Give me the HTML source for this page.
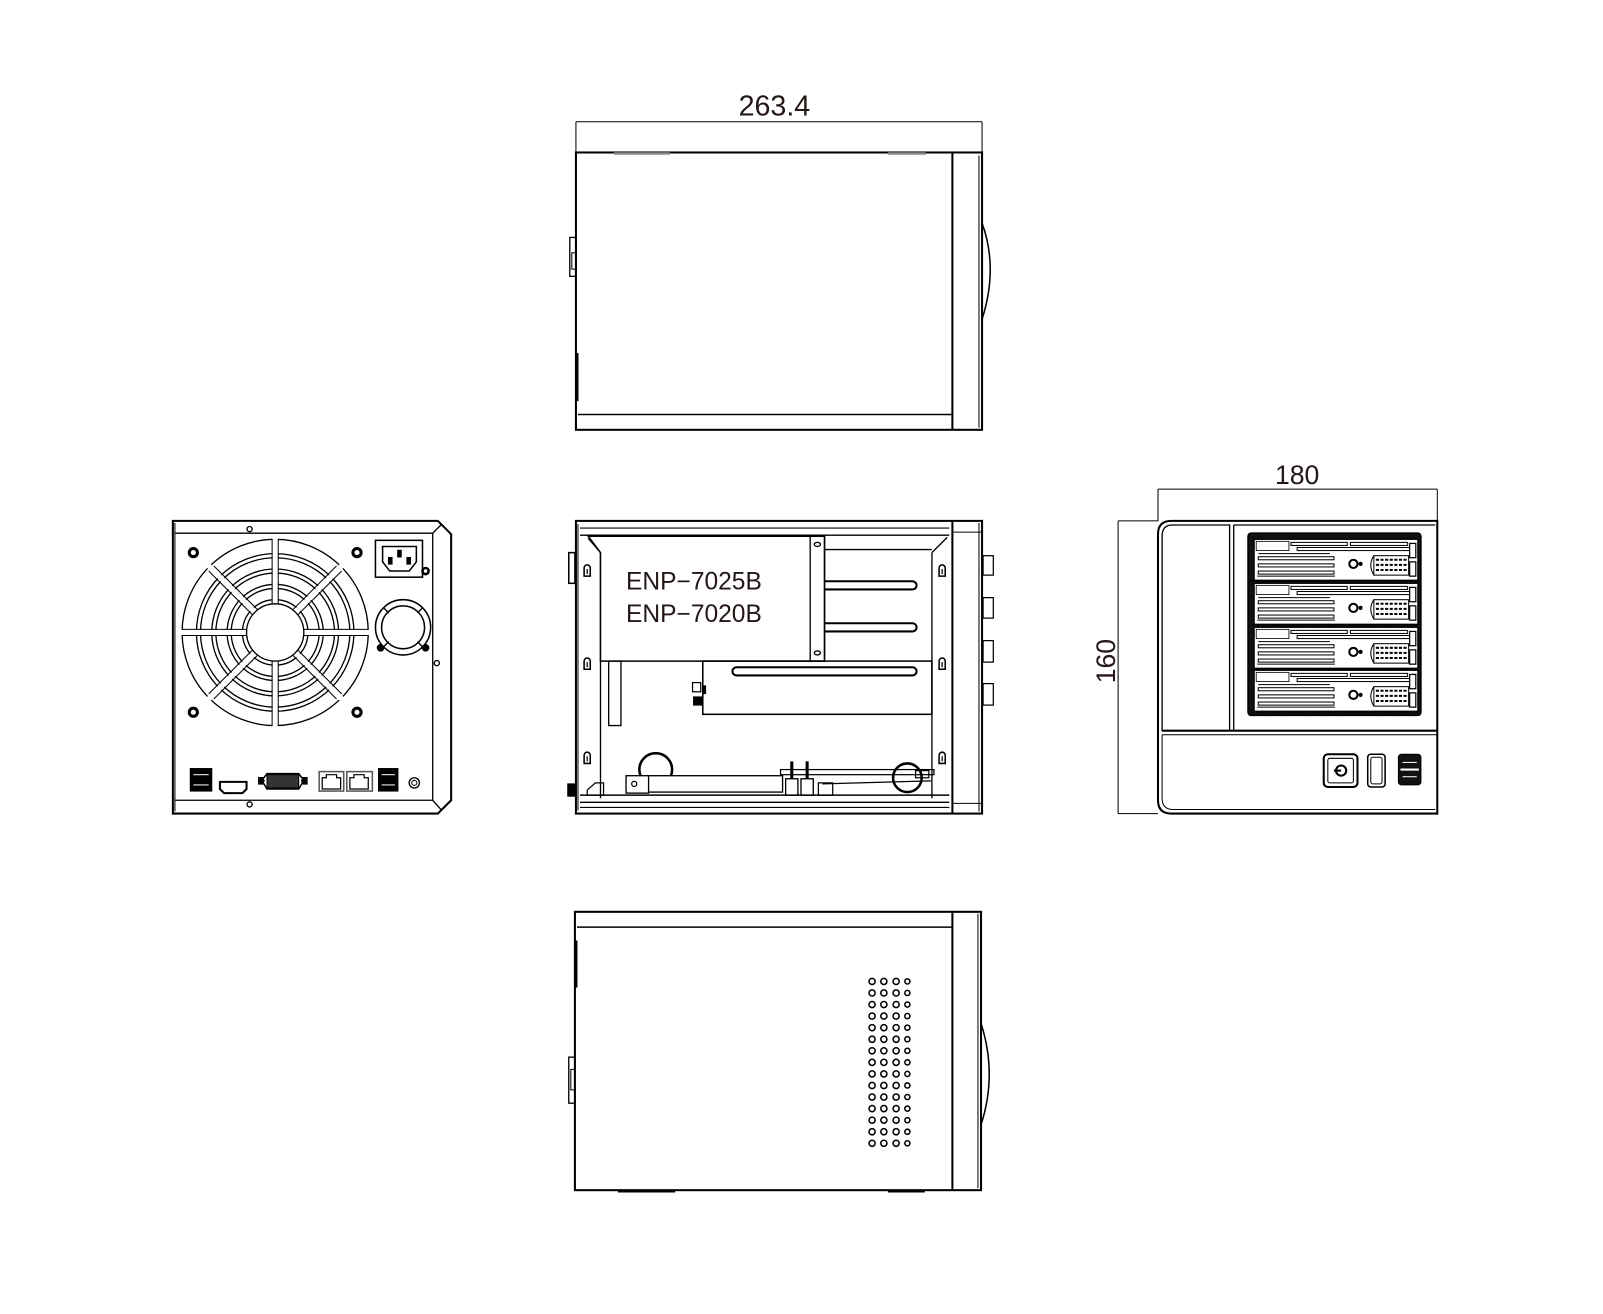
<!DOCTYPE html>
<html><head><meta charset="utf-8"><style>
html,body{margin:0;padding:0;background:#fff;width:1603px;height:1314px;overflow:hidden}
svg{display:block}
text{font-family:"Liberation Sans",sans-serif;fill:#231815}
</style></head><body>
<svg width="1603" height="1314" viewBox="0 0 1567 1284" preserveAspectRatio="none" xmlns="http://www.w3.org/2000/svg">
<defs>
<g id="bay">
 <rect x="1226" y="0" width="160" height="40" fill="#fff" stroke="#000" stroke-width="1.2"/>
 <rect x="1228" y="2" width="32" height="9" fill="#fff" stroke="#000" stroke-width="0.8"/>
 <line x1="1230" y1="14" x2="1300" y2="14" stroke="#000" stroke-width="1"/>
 <rect x="1262" y="3" width="55" height="3" fill="#fff" stroke="#000" stroke-width="1"/>
 <rect x="1268" y="8" width="110" height="3" fill="#fff" stroke="#000" stroke-width="1"/>
 <rect x="1320" y="3" width="56" height="3" fill="#fff" stroke="#000" stroke-width="1"/>
 <rect x="1230" y="17" width="74" height="3" fill="#fff" stroke="#000" stroke-width="1"/>
 <rect x="1230" y="24" width="74" height="3" fill="#fff" stroke="#000" stroke-width="1"/>
 <rect x="1230" y="31" width="74" height="3" fill="#fff" stroke="#000" stroke-width="1"/>
 <line x1="1229" y1="36" x2="1305" y2="36" stroke="#000" stroke-width="1"/>
 <circle cx="1323" cy="24" r="4" fill="#fff" stroke="#000" stroke-width="2"/>
 <circle cx="1330" cy="24" r="1.3" fill="#000"/>
 <path d="M1343 16 Q1337 25 1343 35" fill="none" stroke="#000" stroke-width="1"/>
 <rect x="1343" y="16" width="34" height="19" fill="#fff" stroke="#000" stroke-width="1"/>
 <line x1="1345" y1="20" x2="1376" y2="20" stroke="#000" stroke-width="2" stroke-dasharray="3 1.5"/>
 <line x1="1345" y1="25" x2="1376" y2="25" stroke="#000" stroke-width="2" stroke-dasharray="3 1.5"/>
 <line x1="1345" y1="30" x2="1376" y2="30" stroke="#000" stroke-width="2" stroke-dasharray="3 1.5"/>
 <rect x="1378" y="4" width="6" height="14" fill="#fff" stroke="#000" stroke-width="1.2"/>
 <rect x="1378" y="22" width="6" height="14" fill="#fff" stroke="#000" stroke-width="1.2"/>
 <line x1="1223" y1="41" x2="1388" y2="41" stroke="#000" stroke-width="1.5" stroke-dasharray="3 2"/>
</g>
<g id="hook"><path d="M-3 6 V-2 A3 3 0 0 1 3 -2 V6 Z" fill="#fff" stroke="#000" stroke-width="1.5"/><line x1="0" y1="-1" x2="0" y2="4" stroke="#000" stroke-width="1.2"/></g>
</defs>
<g fill="none" stroke="#000" stroke-width="1.5">

<!-- ============ TOP VIEW ============ -->
<text x="757" y="113" font-size="28" text-anchor="middle" stroke="none">263.4</text>
<line x1="563" y1="119" x2="960" y2="119" stroke-width="1"/>
<line x1="563" y1="119" x2="563" y2="149" stroke-width="1"/>
<line x1="960" y1="119" x2="960" y2="149" stroke-width="1"/>
<rect x="563" y="149" width="397" height="271" stroke-width="2"/>
<line x1="931" y1="149" x2="931" y2="420" stroke-width="2"/>
<line x1="957" y1="152" x2="957" y2="418" stroke-width="1"/>
<line x1="565" y1="405" x2="931" y2="405" stroke-width="1.5"/>
<line x1="600" y1="150" x2="655" y2="150" stroke="#888" stroke-width="2.5"/>
<line x1="868" y1="150" x2="905" y2="150" stroke="#888" stroke-width="2.5"/>
<path d="M960 218 Q976 262 960 312" stroke-width="1.5"/>
<rect x="557" y="232" width="6" height="38" stroke-width="1.3"/>
<rect x="559" y="247" width="4" height="16" stroke-width="1"/>
<line x1="564" y1="345" x2="564" y2="392" stroke-width="3"/>

<!-- ============ REAR VIEW ============ -->
<path d="M169 509 H428 L441 522 V782 L428 795 H169 Z" stroke-width="2"/>
<path d="M171 521 H423 L431 513" stroke-width="1.3"/>
<path d="M171 782 H423 L431 791" stroke-width="1.3"/>
<path d="M423 521 V782" stroke-width="1.3"/>
<line x1="171" y1="511" x2="171" y2="793" stroke-width="1"/>
<circle cx="244" cy="517" r="2.5" stroke-width="1.3"/>
<circle cx="244" cy="786" r="2.5" stroke-width="1.3"/>
<circle cx="189" cy="540" r="4" stroke-width="3"/>
<circle cx="349" cy="540" r="4" stroke-width="3"/>
<circle cx="189" cy="696" r="4" stroke-width="3"/>
<circle cx="349" cy="696" r="4" stroke-width="3"/>
<circle cx="427" cy="648" r="2.5" stroke-width="1.3"/>
<circle cx="416" cy="558" r="3" stroke-width="2.5"/>
<!-- fan -->
<g stroke-width="1.3">
<circle cx="269" cy="618" r="28"/>
<circle cx="269" cy="618" r="32"/><circle cx="269" cy="618" r="43"/>
<circle cx="269" cy="618" r="47"/><circle cx="269" cy="618" r="58"/>
<circle cx="269" cy="618" r="62"/><circle cx="269" cy="618" r="73"/>
<circle cx="269" cy="618" r="77"/><circle cx="269" cy="618" r="91"/>
</g>
<g stroke="#fff" stroke-width="5">
<line x1="269" y1="588" x2="269" y2="524"/><line x1="269" y1="648" x2="269" y2="712"/>
<line x1="239" y1="618" x2="175" y2="618"/><line x1="299" y1="618" x2="363" y2="618"/>
<line x1="248" y1="597" x2="203" y2="552"/><line x1="290" y1="597" x2="335" y2="552"/>
<line x1="248" y1="639" x2="203" y2="684"/><line x1="290" y1="639" x2="335" y2="684"/>
</g>
<g stroke-width="1">
<line x1="266" y1="590" x2="266" y2="527"/><line x1="272" y1="590" x2="272" y2="527"/>
<line x1="266" y1="646" x2="266" y2="709"/><line x1="272" y1="646" x2="272" y2="709"/>
<line x1="241" y1="615" x2="178" y2="615"/><line x1="241" y1="621" x2="178" y2="621"/>
<line x1="297" y1="615" x2="360" y2="615"/><line x1="297" y1="621" x2="360" y2="621"/>
<line x1="247" y1="601" x2="204" y2="558"/><line x1="252" y1="596" x2="209" y2="553"/>
<line x1="291" y1="601" x2="334" y2="558"/><line x1="286" y1="596" x2="329" y2="553"/>
<line x1="247" y1="635" x2="204" y2="678"/><line x1="252" y1="640" x2="209" y2="683"/>
<line x1="291" y1="635" x2="334" y2="678"/><line x1="286" y1="640" x2="329" y2="683"/>
</g>
<!-- power inlet -->
<rect x="367" y="528" width="46" height="36" stroke-width="1.5"/>
<path d="M374 534 H407 V549 L400 558 H381 L374 549 Z" stroke-width="1.5"/>
<rect x="380" y="545" width="3" height="6" fill="#000"/>
<rect x="389" y="538" width="3" height="6" fill="#000"/>
<rect x="398" y="545" width="3" height="6" fill="#000"/>
<!-- small fan -->
<circle cx="394" cy="613" r="27" stroke-width="1.5"/>
<circle cx="394" cy="613" r="21" stroke-width="1.5"/>
<path d="M375 594 L380 599 M413 594 L408 599 M375 632 L380 627 M413 632 L408 627" stroke-width="1.3"/>
<circle cx="372" cy="633" r="3" fill="#000"/><circle cx="416" cy="633" r="3" fill="#000"/>
<!-- ports -->
<rect x="186" y="751" width="21" height="22" fill="#000" stroke-width="1"/>
<line x1="189" y1="757" x2="204" y2="757" stroke="#fff" stroke-width="1"/>
<line x1="189" y1="767" x2="204" y2="767" stroke="#fff" stroke-width="1"/>
<path d="M215 764 H241 V771 L237 775 H219 L215 771 Z" stroke-width="2"/>
<path d="M253 760 H258 L261 756 H292 L295 760 H300 V766 H295 L292 771 H261 L258 766 H253 Z" stroke-width="1.5"/>
<rect x="261" y="757" width="31" height="13" fill="#333" stroke-width="1"/>
<circle cx="256" cy="763" r="2" fill="#000"/><circle cx="297" cy="763" r="2" fill="#000"/>
<rect x="312" y="754" width="24" height="19" stroke="#555" stroke-width="1.5"/>
<path d="M315 771 V760 H319 V757 H329 V760 H333 V771 Z" stroke-width="1.2"/>
<rect x="339" y="754" width="25" height="19" stroke="#555" stroke-width="1.5"/>
<path d="M342 771 V760 H346 V757 H356 V760 H360 V771 Z" stroke-width="1.2"/>
<rect x="370" y="751" width="19" height="22" fill="#000" stroke-width="1"/>
<line x1="373" y1="757" x2="386" y2="757" stroke="#fff" stroke-width="1"/>
<line x1="373" y1="767" x2="386" y2="767" stroke="#fff" stroke-width="1"/>
<circle cx="405" cy="765" r="5" stroke-width="1.3"/><circle cx="405" cy="765" r="2.5" stroke-width="1"/>

<!-- ============ MIDDLE SIDE VIEW ============ -->
<rect x="563" y="509" width="397" height="286" stroke-width="2"/>
<line x1="931" y1="509" x2="931" y2="795" stroke-width="2"/>
<line x1="957" y1="511" x2="957" y2="793" stroke-width="1"/>
<line x1="931" y1="520" x2="960" y2="520" stroke-width="1"/>
<line x1="931" y1="785" x2="960" y2="785" stroke-width="1"/>
<g fill="#fff" stroke-width="1.2">
<rect x="961" y="543" width="10" height="19"/><rect x="961" y="584" width="10" height="20"/>
<rect x="961" y="626" width="10" height="21"/><rect x="961" y="668" width="10" height="21"/>
</g>
<line x1="565" y1="512" x2="565" y2="792" stroke-width="1"/>
<line x1="567" y1="523" x2="928" y2="523" stroke-width="1.3"/>
<line x1="567" y1="516" x2="928" y2="516" stroke-width="1"/>
<path d="M587 540 V780" stroke-width="1.3"/>
<path d="M911 540 V780" stroke-width="1.3"/>
<path d="M911 540 L926 525" stroke-width="1.3"/>
<path d="M587 540 L575 526" stroke-width="1.3"/>
<rect x="556" y="540" width="6" height="30" stroke-width="1.5"/>
<rect x="555" y="766" width="7" height="12" fill="#000" stroke-width="1"/>
<!-- PSU -->
<path d="M575 524 H806 V646 H587 V540 Z" fill="#fff" stroke-width="1.5"/>
<rect x="792" y="524" width="14" height="122" stroke-width="1.3"/>
<ellipse cx="799" cy="532" rx="3" ry="2" stroke-width="1.3"/>
<ellipse cx="799" cy="638" rx="3" ry="2" stroke-width="1.3"/>
<line x1="806" y1="537" x2="911" y2="537" stroke-width="1.3"/>
<text x="612" y="576" font-size="24" stroke="none">ENP−7025B</text>
<text x="612" y="608" font-size="24" stroke="none">ENP−7020B</text>
<path d="M806 568 H892 A4 4 0 0 1 892 576 H806" stroke-width="2"/>
<path d="M806 609 H892 A4 4 0 0 1 892 617 H806" stroke-width="2"/>
<rect x="716" y="652" width="180" height="8" rx="4" stroke-width="2"/>
<rect x="687" y="646" width="224" height="52" stroke-width="1.5"/>
<rect x="677" y="667" width="8" height="9" stroke-width="1.2"/>
<rect x="678" y="681" width="8" height="8" fill="#000" stroke-width="1"/>
<rect x="687" y="670" width="3" height="8" fill="#000" stroke-width="0.5"/>
<rect x="595" y="646" width="12" height="63" stroke-width="1.3"/>
<!-- bottom -->
<circle cx="641" cy="752" r="16" stroke-width="2.5"/>
<rect x="632" y="758" width="133" height="16" fill="#fff" stroke-width="1.3"/>
<rect x="612" y="758" width="22" height="17" fill="#fff" stroke-width="1.3"/>
<circle cx="620" cy="766" r="2.5" stroke-width="1.2"/>
<rect x="768" y="761" width="12" height="16" fill="#fff" stroke-width="1.3"/>
<rect x="783" y="761" width="12" height="16" fill="#fff" stroke-width="1.3"/>
<line x1="774" y1="744" x2="774" y2="761" stroke-width="3"/>
<line x1="789" y1="744" x2="789" y2="761" stroke-width="3"/>
<rect x="763" y="752" width="150" height="5" stroke-width="1.2"/>
<line x1="804" y1="766" x2="910" y2="763" stroke-width="1.2"/>
<rect x="800" y="765" width="14" height="12" stroke-width="1.2"/>
<circle cx="887" cy="760" r="14" stroke-width="2.5"/>
<rect x="895" y="753" width="13" height="7" stroke-width="1.2"/>
<path d="M574 772 L582 765 H590 V777 H574 Z" stroke-width="1.2"/>
<line x1="567" y1="777" x2="928" y2="777" stroke-width="1.5"/>
<line x1="567" y1="784" x2="928" y2="784" stroke-width="1.3"/>
<line x1="567" y1="789" x2="928" y2="789" stroke-width="1"/>
<use href="#hook" x="574" y="557"/><use href="#hook" x="574" y="648"/><use href="#hook" x="574" y="740"/>
<use href="#hook" x="921" y="557"/><use href="#hook" x="921" y="648"/><use href="#hook" x="921" y="740"/>

<!-- ============ FRONT VIEW ============ -->
<text x="1268" y="473" font-size="26" text-anchor="middle" stroke="none">180</text>
<line x1="1132" y1="478" x2="1405" y2="478" stroke-width="1"/>
<line x1="1132" y1="478" x2="1132" y2="509" stroke-width="1"/>
<line x1="1405" y1="478" x2="1405" y2="509" stroke-width="1"/>
<text transform="translate(1090 646) rotate(-90)" font-size="26" text-anchor="middle" stroke="none">160</text>
<line x1="1093" y1="509" x2="1093" y2="795" stroke-width="1"/>
<line x1="1093" y1="509" x2="1132" y2="509" stroke-width="1"/>
<line x1="1093" y1="795" x2="1132" y2="795" stroke-width="1"/>
<path d="M1145 509 H1405 V795 H1145 Q1132 795 1132 782 V522 Q1132 509 1145 509 Z" stroke-width="2"/>
<path d="M1146 513 H1202 V714 H1136 V524 Q1136 513 1146 513 Z" stroke-width="1.3"/>
<line x1="1206" y1="513" x2="1206" y2="714" stroke-width="1.3"/>
<line x1="1206" y1="513" x2="1403" y2="513" stroke-width="1.3"/>
<line x1="1136" y1="714" x2="1405" y2="714" stroke-width="2"/>
<line x1="1136" y1="718" x2="1405" y2="718" stroke-width="1"/>
<path d="M1136 718 V780 Q1136 791 1147 791 H1403" stroke-width="1"/>
<rect x="1220" y="521" width="169" height="178" rx="3" fill="#111" stroke-width="1.5"/>
<use href="#bay" y="527"/>
<use href="#bay" y="570"/>
<use href="#bay" y="613"/>
<use href="#bay" y="655"/>
<rect x="1294" y="737" width="33" height="32" rx="4" stroke-width="2"/>
<rect x="1298" y="741" width="25" height="24" rx="2" stroke-width="1"/>
<circle cx="1311" cy="753" r="5" stroke-width="2"/>
<line x1="1304" y1="753" x2="1311" y2="753" stroke-width="2"/>
<rect x="1337" y="737" width="17" height="32" rx="3" stroke-width="1.5"/>
<rect x="1340" y="740" width="11" height="26" rx="2" stroke-width="1"/>
<rect x="1367" y="737" width="22" height="30" rx="3" fill="#111" stroke-width="1"/>
<line x1="1369" y1="752" x2="1387" y2="752" stroke="#fff" stroke-width="2"/>
<line x1="1371" y1="745" x2="1385" y2="745" stroke="#fff" stroke-width="1"/>
<line x1="1371" y1="759" x2="1385" y2="759" stroke="#fff" stroke-width="1"/>

<!-- ============ BOTTOM VIEW ============ -->
<rect x="562" y="891" width="397" height="272" stroke-width="2"/>
<line x1="564" y1="906" x2="931" y2="906" stroke-width="1.5"/>
<line x1="931" y1="891" x2="931" y2="1163" stroke-width="2"/>
<line x1="956" y1="893" x2="956" y2="1161" stroke-width="1"/>
<line x1="604" y1="1164" x2="660" y2="1164" stroke-width="2.5"/>
<line x1="868" y1="1164" x2="904" y2="1164" stroke-width="2.5"/>
<path d="M959 1000 Q975 1050 959 1099" stroke-width="1.5"/>
<line x1="563" y1="919" x2="563" y2="965" stroke-width="3"/>
<rect x="556" y="1033" width="6" height="45" stroke-width="1.3"/>
<rect x="558" y="1045" width="4" height="20" stroke-width="1"/>
<g stroke-width="1.5">
<g id="vr"><circle cx="852.5" cy="959" r="3"/><circle cx="864" cy="959" r="3"/><circle cx="876" cy="959" r="3"/><circle cx="887" cy="959" r="2.5"/></g>
<use href="#vr" y="11.3"/><use href="#vr" y="22.6"/><use href="#vr" y="33.9"/><use href="#vr" y="45.2"/>
<use href="#vr" y="56.5"/><use href="#vr" y="67.8"/><use href="#vr" y="79.1"/><use href="#vr" y="90.4"/>
<use href="#vr" y="101.7"/><use href="#vr" y="113"/><use href="#vr" y="124.3"/><use href="#vr" y="135.6"/>
<use href="#vr" y="146.9"/><use href="#vr" y="158.2"/>
</g>
</g>
</svg>
</body></html>
